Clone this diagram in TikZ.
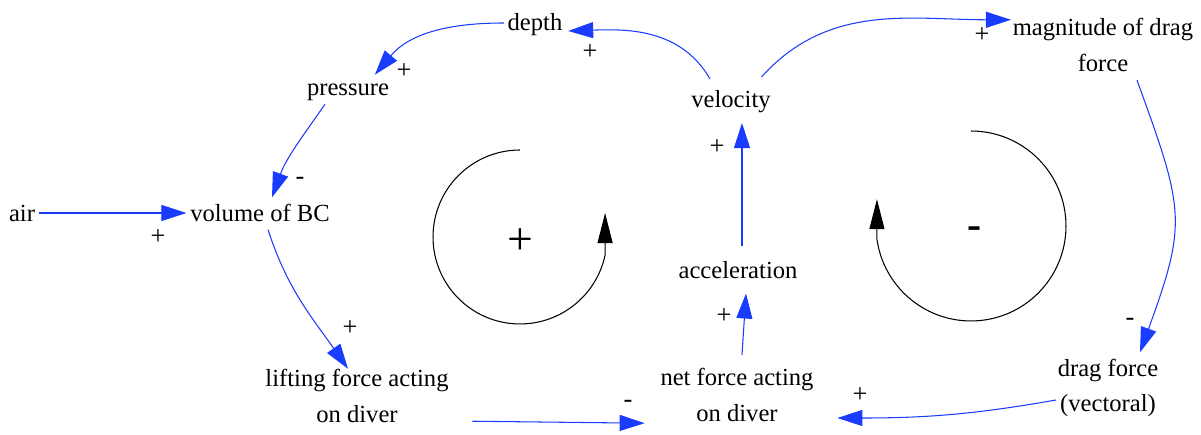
\documentclass[tikz,border=0pt]{standalone}
\usepackage{fontspec}
\setmainfont{Liberation Serif}
\usetikzlibrary{arrows.meta}
\definecolor{lnkblue}{RGB}{25,60,255}

\begin{document}
\begin{tikzpicture}[x=0.02cm, y=0.02cm,
  var/.style={font=\fontsize{14}{20}\selectfont, align=center, inner sep=2pt},
  lnk/.style={lnkblue, line width=0.6pt, -{Triangle[length=0.5cm,width=0.32cm]}},
  pol/.style={font=\fontsize{15}{17}\selectfont},
  loopa/.style={black, line width=0.6pt, -{Triangle[length=0.6cm,width=0.3cm]}}
]
  \useasboundingbox (0,0) rectangle (1201,434);
  % variables
  \node[var] (dep)  at (535,409)  {depth};
  \node[var] (pres) at (348,342)  {pressure};
  \node[var] (vel)  at (731,332)  {velocity};
  \node[var] (mag)  at (1103,389) {magnitude of drag\\force};
  \node[var] (air)  at (22,221)   {air};
  \node[var] (vol)  at (260,221)  {volume of BC};
  \node[var] (acc)  at (738,164)  {acceleration};
  \node[var] (lift) at (357,38)   {lifting force acting\\on diver};
  \node[var] (net)  at (737,39)   {net force acting\\on diver};
  \node[var] (drag) at (1108,46)  {drag force\\(vectoral)};
  % causal links
  \draw[lnk] ([shift={(-21,8)}]vel.north) to[out=120,in=2] ([shift={(2,-6)}]dep.east);
  \draw[lnk] ([shift={(0,2)}]dep.west) to[out=180,in=50] ([shift={(-18,5)}]pres.north east);
  \draw[lnk] ([shift={(-23,0)}]pres.south) to[out=235,in=70] ([shift={(12,3)}]vol.north);
  \draw[lnk] (air.east) -- (vol.west);
  \draw[lnk] ([shift={(8,-4)}]vol.south) to[out=-72,in=125] ([shift={(-9,-3)}]lift.north);
  \draw[lnk] ([shift={(20,5)}]lift.south east) -- ([shift={(-12,2)}]net.south west);
  \draw[lnk] ([shift={(5,10)}]net.north) -- ([shift={(8,-11)}]acc.south);
  \draw[lnk] ([shift={(4,11)}]acc.north) -- ([shift={(11,-6)}]vel.south);
  \draw[lnk] ([shift={(-13,10)}]vel.north east) to[out=48,in=180] ([shift={(2,-5)}]mag.north west);
  \draw[lnk] ([shift={(34,-5)}]mag.south) to[out=-70,in=70,looseness=1.3] ([shift={(32,3)}]drag.north);
  \draw[lnk] ([shift={(2,-12)}]drag.west) to[out=190,in=0] ([shift={(20,-23)}]net.east);
  % polarities
  \node[pol] (p1) at (590,382) {+};
  \node[pol] (p2) at (404,363) {+};
  \node[pol] (p3) at (300,253) {-};
  \node[pol] (p4) at (158,197) {+};
  \node[pol] (p5) at (350,106) {+};
  \node[pol] (p6) at (628,30)  {-};
  \node[pol] (p7) at (724,118) {+};
  \node[pol] (p8) at (717,287) {+};
  \node[pol] (p9) at (982,399) {+};
  \node[pol] (p10) at (1130,112) {-};
  \node[pol] (p11) at (860,39) {+};
  % loops
  \draw[loopa] (520,284) arc[start angle=90,end angle=348,radius=1.74cm] -- ++(0,42);
  \node[font=\fontsize{26}{28}\selectfont] (lr) at (520,192) {+};
  \draw[loopa] (971,303) arc[start angle=90,end angle=-172,radius=1.9cm] -- ++(0,40);
  \node[font=\fontsize{24}{26}\bfseries\selectfont] (lb) at (975,201) {-};
\end{tikzpicture}
\end{document}
